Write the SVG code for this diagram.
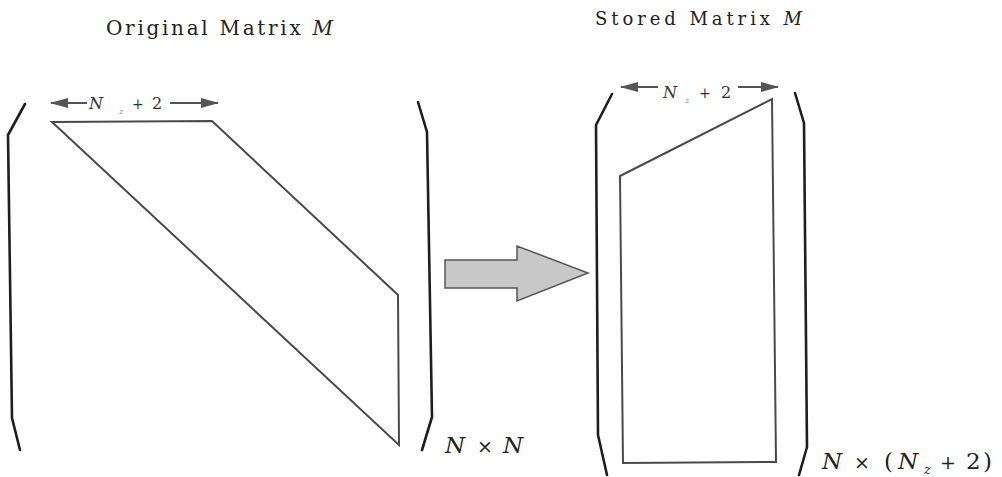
<svg xmlns="http://www.w3.org/2000/svg" width="1002" height="477" viewBox="0 0 1002 477">
<defs>
<style>
.bracket{fill:none;stroke:#1e1e1e;stroke-width:2.6;stroke-linejoin:round;stroke-linecap:round}
.band{fill:none;stroke:#4a4a4a;stroke-width:2}
.dim{stroke:#555;stroke-width:2;fill:none}
.ttl{fill:#222}
.lbl{fill:#333;font-size:16px}
.size{fill:#222;font-size:23px}
.it{font-style:italic}
.op{font-size:19px}
.opS{font-size:14px}
</style>
<marker id="ah" viewBox="0 0 18 10" refX="17" refY="5" markerWidth="18" markerHeight="10" markerUnits="userSpaceOnUse" orient="auto-start-reverse">
<path d="M0,0 L18,5 L0,10 Z" fill="#555"/>
</marker>
</defs>
<rect width="1002" height="477" fill="#fff"/>

<text class="ttl" x="106" y="35" font-size="20" textLength="227" lengthAdjust="spacing" font-family="DejaVu Serif, serif">Original Matrix <tspan class="it">M</tspan></text>
<text class="ttl" x="595" y="25" font-size="18" textLength="207" lengthAdjust="spacing" font-family="DejaVu Serif, serif">Stored Matrix <tspan class="it">M</tspan></text>

<g id="original-matrix">
<path class="bracket" d="M25,104 L8,135 L12,418 L20,450"/>
<path class="bracket" d="M418,102 L427,132 L432,417 L422,450"/>
<polygon class="band" points="52,122 212,121 398,295 399,445"/>
<line class="dim" x1="87" y1="103" x2="51" y2="103" marker-end="url(#ah)"/>
<line class="dim" x1="170" y1="103" x2="218" y2="103" marker-end="url(#ah)"/>
<text class="lbl" y="109" font-family="DejaVu Serif, serif"><tspan class="it" x="89">N</tspan><tspan class="it" x="119" y="114" font-size="8" fill="#888">z</tspan><tspan class="opS" x="132" y="109">+</tspan><tspan x="152">2</tspan></text>
<text class="size" y="453" font-family="DejaVu Serif, serif"><tspan class="it" x="445">N</tspan><tspan class="op" x="477">×</tspan><tspan class="it" x="503">N</tspan></text>
</g>

<g id="stored-matrix">
<path class="bracket" d="M612,94 L596,125 L598,435 L607,475"/>
<path class="bracket" d="M795,93 L804,123 L807,447 L799,475"/>
<polygon class="band" points="620,176 772,99 776,462 623,463"/>
<line class="dim" x1="658" y1="87" x2="621" y2="87" marker-end="url(#ah)"/>
<line class="dim" x1="738" y1="87" x2="778" y2="87" marker-end="url(#ah)"/>
<text class="lbl" y="98" font-family="DejaVu Serif, serif"><tspan class="it" x="663">N</tspan><tspan class="it" x="685" y="103" font-size="8" fill="#888">z</tspan><tspan class="opS" x="699" y="98">+</tspan><tspan x="721">2</tspan></text>
<text class="size" y="469" font-family="DejaVu Serif, serif"><tspan class="it" x="822">N</tspan><tspan class="op" x="854">×</tspan><tspan x="884">(</tspan><tspan class="it" x="898">N</tspan><tspan class="it" x="924" y="474" font-size="13">z</tspan><tspan class="op" x="940" y="469">+</tspan><tspan x="966">2</tspan><tspan x="983">)</tspan></text>
</g>

<g id="connectors">
<polygon points="445,260 517,260 517,246 588,273 517,301 517,288 445,288" fill="#c8c8c8" stroke="#555" stroke-width="1.5" stroke-linejoin="miter"/>
</g>
</svg>
